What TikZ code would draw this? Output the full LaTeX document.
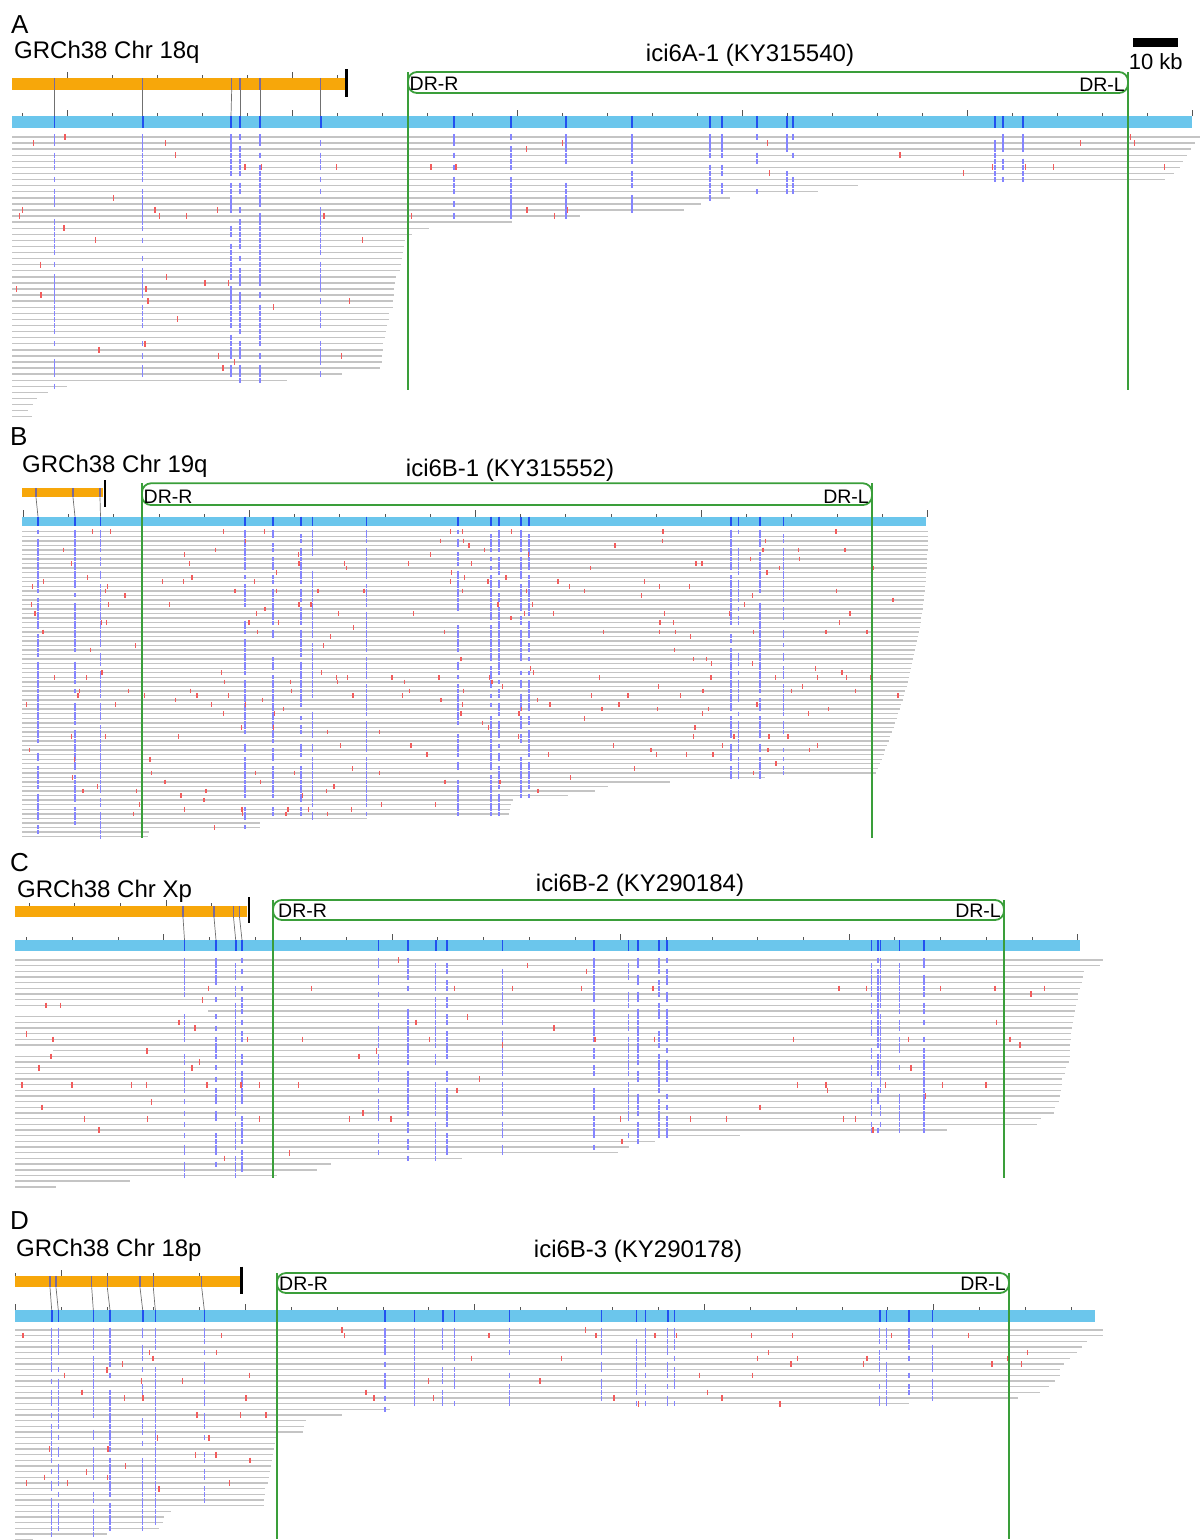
\documentclass[tikz,border=0pt]{standalone}
\usepackage{fontspec}
\setmainfont{Liberation Sans}
\definecolor{orbar}{HTML}{F7A70A}
\definecolor{blbar}{HTML}{6BC6EC}
\definecolor{mkblue}{HTML}{2250F0}
\definecolor{dashblue}{HTML}{8585FF}
\definecolor{readgray}{HTML}{C4C4C4}
\definecolor{mmred}{HTML}{F25C5C}
\definecolor{grn}{HTML}{3A9E3A}
\definecolor{ormark}{HTML}{7A6A98}
\definecolor{tickgray}{HTML}{555555}
\definecolor{conngray}{HTML}{707070}
\newcommand\fs[1]{\fontsize{#1}{#1}\selectfont}
\newcommand\barticks[5]{%
  \foreach \ti in {0,...,#3}{%
    \pgfmathsetmacro\tx{#1+#2*\ti}%
    \pgfmathtruncatemacro\tl{mod(\ti,5)==#4 ? 1 : 0}%
    \ifnum\tl=1 \draw[tick] (\tx,#5) -- (\tx,#5-6.5);\else\draw[tick] (\tx,#5) -- (\tx,#5-3.2);\fi}}
\newcommand\markers[5]{%
  \foreach \ma/\mb in {#1}{\draw[omark] (\ma,#2) -- (\ma,#3); \draw[conn] (\ma,#3) -- (\mb,#4); \draw[bmark] (\mb,#4) -- (\mb,#5);}}
\newcommand\bmarks[3]{\foreach \mc in {#1}{\draw[bmark] (\mc,#2) -- (\mc,#3);}}
\newcommand\reads[8]{%
  \foreach \rS/\rE [count=\ri from 0] in {#4} {%
    \pgfmathsetmacro\yy{#1+\ri*#2}%
    \draw[readline] (\rS,\yy) -- (\rE,\yy);%
    \foreach \cc in {#5} {%
      \pgfmathsetmacro\hit{((\cc>\rS+1) && (\cc<\rE-1) && (rnd<#8)) ? 1 : 0}%
      \ifdim\hit pt>0.5pt \draw[dashline] (\cc,\yy-#3) -- (\cc,\yy+#3);\fi}%
    \pgfmathsetmacro\pr{(rnd<#6) ? 0.3 : #7}%
    \pgfmathtruncatemacro\nn{max(1,(\rE-\rS)/40)}%
    \foreach \jj in {1,...,\nn} {%
      \pgfmathsetmacro\xx{\rS+(\jj-rnd)*40}%
      \pgfmathsetmacro\hit{((rnd<\pr) && (\xx<\rE-2) && (\xx>\rS+2)) ? 1 : 0}%
      \ifdim\hit pt>0.5pt \draw[mism] (\xx,\yy-#3-0.3) -- (\xx,\yy+#3+0.3);\fi}%
  }}
\begin{document}
\begin{tikzpicture}[x=1pt,y=-1pt,
  readline/.style={line width=1.4pt, draw=readgray},
  dashline/.style={line width=1.3pt, draw=dashblue},
  mism/.style={line width=1.3pt, draw=mmred},
  tick/.style={line width=0.8pt, draw=tickgray},
  bmark/.style={line width=1.6pt, draw=mkblue},
  omark/.style={line width=1.5pt, draw=ormark},
  conn/.style={line width=0.7pt, draw=conngray},
  endbar/.style={line width=2.6pt, draw=black},
  grnline/.style={line width=1.8pt, draw=grn},
  letter/.style={inner sep=0pt, anchor=base west, font=\fs{26}},
  chrlbl/.style={inner sep=0pt, anchor=base west, font=\fs{24}},
  title/.style={inner sep=0pt, anchor=base, font=\fs{24}},
  drr/.style={inner sep=0pt, anchor=base west, font=\fs{19.5}},
  drl/.style={inner sep=0pt, anchor=base east, font=\fs{19.5}}]
\useasboundingbox (0,0) rectangle (1202,1540);
\pgfmathsetseed{4242}

% ================= Panel A =================
\reads{137}{6.08}{2.7}{12/1200,12/1195,12/1191,12/1187,12/1183,12/1180,12/1174,12/1165,12/858,12/818,12/730,12/701,12/684,12/580,12/512,12/429,12/412,12/405,12/404,12/403,12/402,12/401,12/400,12/396,12/395,12/394,12/394,12/393,12/393,12/389,12/389,12/387,12/386,12/385,12/383,12/383,12/382,12/382,12/380,12/342,12/287,12/67,12/48,12/37,12/33,12/28,12/32}{54.3,142.7,231,240,260,320.7,454,511,566,632,710,722,757,787,793,995,1003,1023}{0.15}{0.035}{0.72}
\fill[orbar] (12,78.3) rectangle (345,90);
\barticks{67.7}{45}{6}{0}{78.3}
\fill[blbar] (12,116) rectangle (1192,127.7);
\barticks{22.7}{45}{26}{1}{116}
\markers{54.3/54.3,142.7/142.7,231.7/231,240/240,260/260,320.7/320.7}{78.3}{90}{116}{127.7}
\bmarks{454,511,566,632,710,722,757,787,793,995,1003,1023}{116}{127.7}
\draw[endbar] (346.5,69) -- (346.5,97);
\draw[grnline, rounded corners=9pt] (408,72) rectangle (1128,93);
\draw[grnline] (408,72) -- (408,390);
\draw[grnline] (1128,72) -- (1128,390);
\node[letter] (la) at (11,33.3) {A};
\node[chrlbl] (ca) at (14,58) {GRCh38 Chr 18q};
\node[title] (ta) at (750,61.7) {ici6A-1 (KY315540)};
\node[drr] (ra) at (409.5,90) {DR-R};
\node[drl] (da) at (1125,91) {DR-L};
\fill[black] (1133.3,38.3) rectangle (1178.3,46.7);
\node[title, font=\fs{22}] (kb) at (1155.8,69.3) {10 kb};

% ================= Panel B =================
\reads{531.7}{4.55}{2.0}{22/928,22/928,22/928,22/928,22/928,22/927,22/927,22/927,22/927,22/926,22/926,22/926,22/925,22/925,22/924,22/924,22/923,22/923,22/922,22/921,22/921,22/920,22/919,22/918,22/917,22/916,22/915,22/914,22/913,22/912,22/911,22/910,22/909,22/908,22/907,22/905,22/904,22/903,22/901,22/900,22/898,22/897,22/895,22/894,22/892,22/890,22/889,22/887,22/885,22/884,22/882,22/880,22/878,22/876,22/765,22/670,22/608,22/595,22/568,22/513,22/511,22/510,22/509,22/367,22/260,22/260,22/149,22/148}{38,75,100.5,245,273,301,312.5,366.5,458,491,499,521,529,731,738.5,760,783.5}{0.4}{0.1}{0.8}
\fill[orbar] (22,488.3) rectangle (103,497.3);
\fill[blbar] (22,516.7) rectangle (926,526);
\barticks{23.3}{45.2}{20}{0}{516.7}
\markers{36/38,73/75,100/100.5}{488.3}{497.3}{516.7}{526}
\bmarks{245,273,301,312.5,366.5,458,491,499,521,529,731,738.5,760,783.5}{516.7}{526}
\draw[endbar] (105,480) -- (105,507.3);
\draw[grnline, rounded corners=9pt] (142,483.3) rectangle (872,505);
\draw[grnline] (142,483.3) -- (142,838);
\draw[grnline] (872,483.3) -- (872,838);
\node[letter] (lb) at (10,445) {B};
\node[chrlbl] (cb) at (22,472) {GRCh38 Chr 19q};
\node[title] (tb) at (510,476) {ici6B-1 (KY315552)};
\node[drr] (rb) at (143.5,503) {DR-R};
\node[drl] (db) at (869,503) {DR-L};

% ================= Panel C =================
\reads{960}{5.67}{2.5}{15/1103,15/1100,15/1084,15/1083,15/1082,15/1080,15/1078,15/1078,15/1076,208/1075,15/1074,15/1073,15/1072,15/1071,15/1071,15/1070,53/1070,15/1070,15/1069,15/1066,15/1065,15/1062,15/1062,15/1061,15/1060,15/1059,15/1055,15/1054,15/1041,15/1037,15/947,15/740,15/655,15/629,15/618,15/462,15/331,15/317,15/277,15/130,15/56}{184.5,216,235.7,242,378.6,408,435.7,447,502.5,594,628.6,638,659,667,871.4,878,880.4,899.3,924}{0.05}{0.04}{0.75}
\fill[orbar] (15,906) rectangle (247,917);
\barticks{29}{45.7}{4}{3}{906}
\fill[blbar] (15,940) rectangle (1080,951);
\barticks{26.5}{45.7}{23}{3}{940}
\markers{183/184.5,214/216,233.5/235.7,239.5/242}{906}{917}{940}{951}
\bmarks{378.6,408,435.7,447,502.5,594,628.6,638,659,667,871.4,878,880.4,899.3,924}{940}{951}
\draw[endbar] (249,897) -- (249,923);
\draw[grnline, rounded corners=9pt] (273,900) rectangle (1004,920);
\draw[grnline] (273,900) -- (273,1178);
\draw[grnline] (1004,900) -- (1004,1178);
\node[letter] (lc) at (10,871) {C};
\node[chrlbl] (cc) at (17,897) {GRCh38 Chr Xp};
\node[title] (tc) at (640,891) {ici6B-2 (KY290184)};
\node[drr] (rc) at (278,917) {DR-R};
\node[drl] (dc) at (1001,917) {DR-L};

% ================= Panel D =================
\reads{1330}{5.67}{2.5}{15/1102.6,15/1102.6,15/1087,15/1082,15/1077,15/1070,15/1064,15/1060,15/1060,15/1055,15/1049,15/1040,15/1018,15/909,15/390,15/342,15/306,15/304,15/303,15/277,15/275,15/274,15/273,15/272,15/271,15/270,15/269,15/268,15/265,15/265,15/264,15/264,15/171,15/164,15/163,15/159,15/107,15/33}{51.7,58.3,93.3,110,142.7,155.3,204.3,384.9,414.6,442.7,454.5,509.5,601.5,636.3,645.3,667.7,674.4,879.8,886.6,909,932.6}{0.3}{0.08}{0.75}
\fill[orbar] (15,1276) rectangle (240.7,1287.3);
\barticks{15.7}{45.8}{4}{1}{1276}
\fill[blbar] (15,1310) rectangle (1095,1321.7);
\barticks{15.7}{45.9}{23}{0}{1310}
\markers{50/51.7,56/58.3,91.7/93.3,107.3/110,140/142.7,153.3/155.3,201.7/204.3}{1276}{1287.3}{1310}{1321.7}
\bmarks{384.9,414.6,442.7,454.5,509.5,601.5,636.3,645.3,667.7,674.4,879.8,886.6,909,932.6}{1310}{1321.7}
\draw[endbar] (241.7,1266.7) -- (241.7,1294);
\draw[grnline, rounded corners=9pt] (277,1273) rectangle (1009,1293);
\draw[grnline] (277,1273) -- (277,1539);
\draw[grnline] (1009,1273) -- (1009,1539);
\node[letter] (ld) at (10,1229) {D};
\node[chrlbl] (cd) at (16,1256) {GRCh38 Chr 18p};
\node[title] (td) at (638,1257) {ici6B-3 (KY290178)};
\node[drr] (rd) at (279,1290) {DR-R};
\node[drl] (dd) at (1006,1290) {DR-L};
\end{tikzpicture}
\end{document}
